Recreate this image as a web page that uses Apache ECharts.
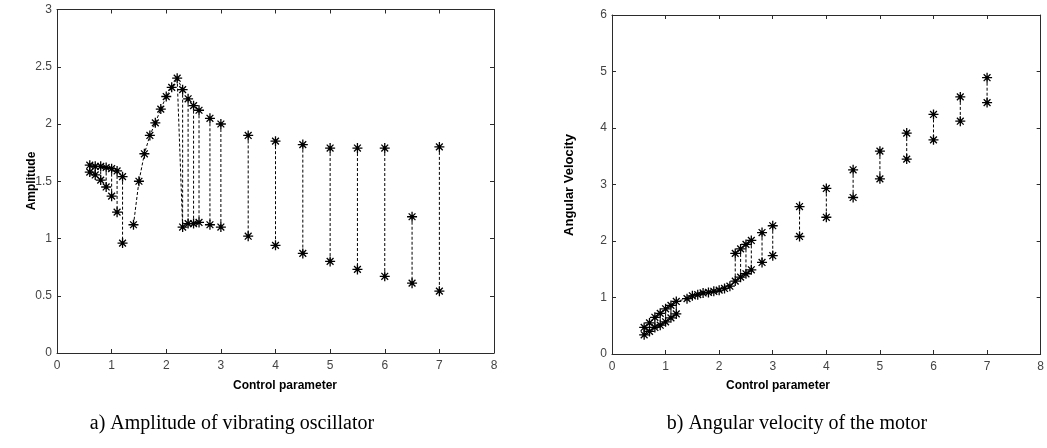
<!DOCTYPE html>
<html><head><meta charset="utf-8">
<script src="https://cdn.jsdelivr.net/npm/echarts@6/dist/echarts.min.js"></script>
<style>html,body{margin:0;padding:0;background:#fff}#c{width:1047px;height:448px}</style>
</head><body><div id="c"></div>
<script>
// ---- data ----
const xTickMin = 0, xTickMax = 8, xTickStep = 1;
const ampTickMin = 0, ampTickMax = 3, ampTickStep = 0.5;
const velTickMin = 0, velTickMax = 6, velTickStep = 1;

// Amplitude: two-valued points (max / min) joined by vertical dashed lines
const ampPairX = [0.6,0.7,0.8,0.9,1.0,1.1,1.2, 2.3,2.4,2.5,2.6,2.8,3.0,3.5,4.0,4.5,5.0,5.5,6.0,6.5,7.0];
const ampMax   = [1.64,1.63,1.63,1.62,1.61,1.59,1.54, 2.30,2.22,2.16,2.12,2.05,2.00,1.90,1.85,1.82,1.79,1.79,1.79,1.19,1.80];
const ampMin   = [1.58,1.555,1.51,1.45,1.37,1.23,0.96, 1.10,1.13,1.13,1.14,1.12,1.10,1.02,0.94,0.87,0.80,0.73,0.67,0.61,0.54];
// Amplitude: single-valued branch
const ampSingleX = [1.4,1.5,1.6,1.7,1.8,1.9,2.0,2.1,2.2];
const ampSingle  = [1.12,1.50,1.74,1.90,2.01,2.13,2.24,2.32,2.40];

// Angular velocity
const velPairX = [0.6,0.7,0.8,0.9,1.0,1.1,1.2, 2.3,2.4,2.5,2.6,2.8,3.0,3.5,4.0,4.5,5.0,5.5,6.0,6.5,7.0];
const velMax   = [0.47,0.55,0.65,0.72,0.80,0.86,0.93, 1.78,1.86,1.94,2.01,2.15,2.27,2.61,2.93,3.26,3.59,3.91,4.24,4.55,4.89];
const velMin   = [0.34,0.40,0.47,0.51,0.57,0.64,0.71, 1.29,1.36,1.42,1.49,1.62,1.74,2.08,2.42,2.77,3.10,3.45,3.79,4.12,4.45];
const velSingleX = [1.4,1.5,1.6,1.7,1.8,1.9,2.0,2.1,2.2];
const velSingle  = [0.98,1.03,1.05,1.08,1.09,1.11,1.13,1.16,1.20];

const xName = 'Control parameter';
const ampName = 'Amplitude';
const velName = 'Angular Velocity';
const captionA = 'a) Amplitude of vibrating oscillator';
const captionB = 'b) Angular velocity of the motor';

// ---- chart ----
const chart = echarts.init(document.getElementById('c'), null, {renderer: 'canvas'});
const AX = '#2b2b2b';
const LBL = '#444';
const STAR = 'path://M0,-5L0,5M-5,0L5,0M-3.4,-3.4L3.4,3.4M-3.4,3.4L3.4,-3.4';
const dash = {color: '#000', width: 1, type: [3, 2], opacity: 1, curveness: 0};

function xAxes(grid) {
  const base = {type: 'value', gridIndex: grid, min: xTickMin, max: xTickMax, interval: xTickStep,
    splitLine: {show: false}, axisLine: {show: true, onZero: false, lineStyle: {color: AX, width: 1}},
    axisTick: {show: true, inside: true, length: 4, lineStyle: {color: AX}}};
  return [
    Object.assign({}, base, {position: 'bottom',
      axisLabel: {color: LBL, fontSize: 12, margin: 7, fontFamily: 'Liberation Sans, Arial, sans-serif'}}),
    Object.assign({}, base, {position: 'top', axisLabel: {show: false}})
  ];
}
function yAxes(grid, mn, mx, st) {
  const base = {type: 'value', gridIndex: grid, min: mn, max: mx, interval: st,
    splitLine: {show: false}, axisLine: {show: true, onZero: false, lineStyle: {color: AX, width: 1}},
    axisTick: {show: true, inside: true, length: 4, lineStyle: {color: AX}}};
  return [
    Object.assign({}, base, {position: 'left',
      axisLabel: {color: LBL, fontSize: 12, margin: 5, fontFamily: 'Liberation Sans, Arial, sans-serif'}}),
    Object.assign({}, base, {position: 'right', axisLabel: {show: false}})
  ];
}
function verticals(xs, hi, lo) {
  return xs.map((x, i) => ({coords: [[x, hi[i]], [x, lo[i]]]}));
}
function pts(xs, ys) { return xs.map((x, i) => [x, ys[i]]); }

function panelSeries(ax, pairX, hi, lo, sX, sY, extraLines) {
  const allPts = pts(pairX, hi).concat(pts(pairX, lo)).concat(pts(sX, sY));
  return [
    {type: 'lines', coordinateSystem: 'cartesian2d', xAxisIndex: ax, yAxisIndex: ax,
     polyline: true, silent: true, lineStyle: dash, z: 2,
     data: verticals(pairX, hi, lo).concat(extraLines)},
    {type: 'scatter', xAxisIndex: ax, yAxisIndex: ax, symbol: STAR, symbolSize: 10,
     itemStyle: {color: 'rgba(0,0,0,0)', borderColor: '#000', borderWidth: 1.3, opacity: 1},
     data: allPts, z: 3, silent: true},
    {type: 'scatter', xAxisIndex: ax, yAxisIndex: ax, symbol: 'rect', symbolSize: 3,
     itemStyle: {color: '#000'}, data: allPts, z: 4, silent: true}
  ];
}

// amplitude extra dashed paths: the rising single-valued branch, then jump from 2.2 to lower value at 2.3
const ampExtra = [
  {coords: pts(ampSingleX, ampSingle).concat([[ampPairX[7], ampMin[7]]])},
  {coords: [[ampSingleX[ampSingleX.length - 1], ampSingle[ampSingle.length - 1]], [ampPairX[7], ampMax[7]]]}
];
// velocity extra dashed paths
const velExtra = [
  {coords: pts(velPairX.slice(0, 7), velMax.slice(0, 7)).concat(pts(velSingleX, velSingle)).concat(pts(velPairX.slice(7, 11), velMin.slice(7, 11)))},
  {coords: pts(velPairX.slice(0, 7), velMin.slice(0, 7))},
  {coords: pts(velPairX.slice(7, 11), velMax.slice(7, 11))}
];

const titleFont = 'Liberation Sans Narrow, Liberation Sans, Arial, sans-serif';
const option = {
  animation: false,
  backgroundColor: '#fff',
  grid: [
    {left: 57, right: 553, top: 9.5, bottom: 95, containLabel: false},
    {left: 612, right: 4, top: 15, bottom: 94, containLabel: false}
  ],
  xAxis: xAxes(0).concat(xAxes(1)),
  yAxis: yAxes(0, ampTickMin, ampTickMax, ampTickStep).concat(yAxes(1, velTickMin, velTickMax, velTickStep)),
  series: panelSeries(0, ampPairX, ampMax, ampMin, ampSingleX, ampSingle, ampExtra)
    .concat(panelSeries(2, velPairX, velMax, velMin, velSingleX, velSingle, velExtra)),
  graphic: [
    {type: 'text', x: 32, y: 181, rotation: Math.PI / 2,
     style: {text: ampName, font: 'bold 12px ' + titleFont, fill: '#000', textAlign: 'center', textVerticalAlign: 'middle'}},
    {type: 'text', x: 569, y: 185, rotation: Math.PI / 2,
     style: {text: velName, font: 'bold 13px ' + titleFont, fill: '#000', textAlign: 'center', textVerticalAlign: 'middle'}},
    {type: 'text', x: 285, y: 386,
     style: {text: xName, font: 'bold 12px ' + titleFont, fill: '#000', textAlign: 'center', textVerticalAlign: 'middle'}},
    {type: 'text', x: 778, y: 386,
     style: {text: xName, font: 'bold 12px ' + titleFont, fill: '#000', textAlign: 'center', textVerticalAlign: 'middle'}},
    {type: 'text', x: 232, y: 424,
     style: {text: captionA, font: '20px Liberation Serif, Times New Roman, serif', fill: '#000', textAlign: 'center', textVerticalAlign: 'middle'}},
    {type: 'text', x: 797, y: 424,
     style: {text: captionB, font: '20px Liberation Serif, Times New Roman, serif', fill: '#000', textAlign: 'center', textVerticalAlign: 'middle'}}
  ]
};
chart.setOption(option);
</script></body></html>
